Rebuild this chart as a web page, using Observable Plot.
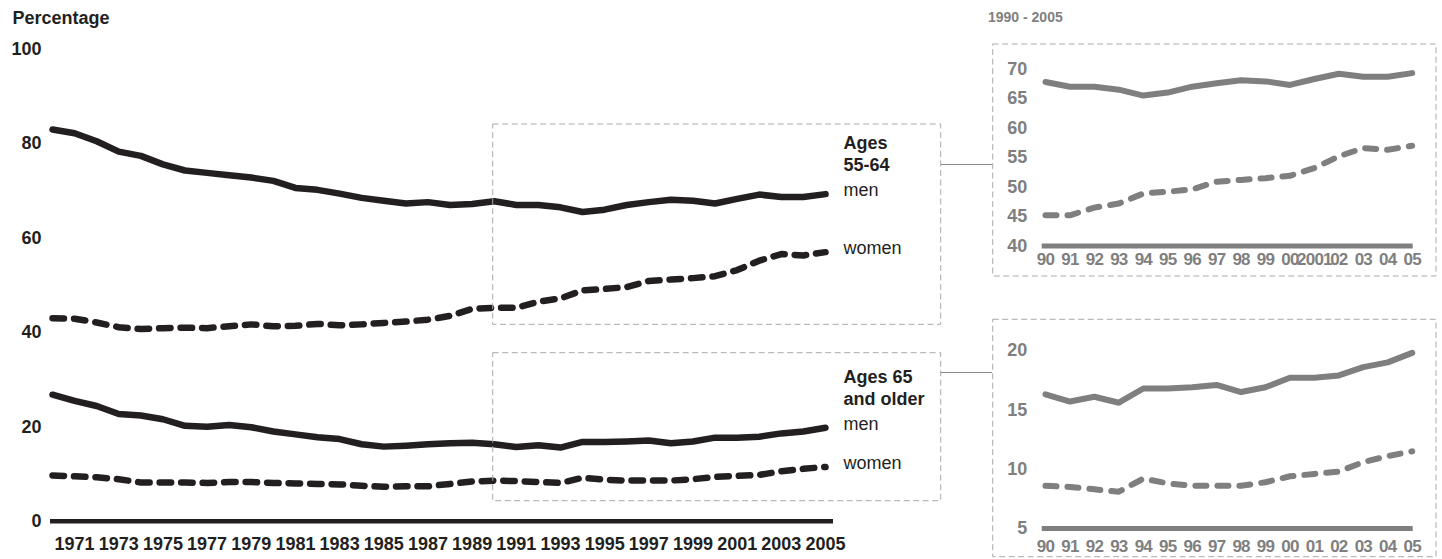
<!DOCTYPE html>
<html><head><meta charset="utf-8">
<script src="https://cdn.jsdelivr.net/npm/d3@7"></script>
<script src="https://cdn.jsdelivr.net/npm/@observablehq/plot@0.6"></script>
<style>
body{margin:0;background:#fff;}
#wrap{position:relative;width:1442px;height:559px;overflow:hidden;font-family:"Liberation Sans",Arial,Helvetica,sans-serif;}
#wrap > svg, #wrap > figure{position:absolute;margin:0;}
</style></head><body><div id="wrap"></div>
<script>
// ---------------- data ----------------
const years = [1970,1971,1972,1973,1974,1975,1976,1977,1978,1979,1980,1981,1982,1983,1984,1985,1986,1987,1988,1989,1990,1991,1992,1993,1994,1995,1996,1997,1998,1999,2000,2001,2002,2003,2004,2005];
const men5564   = [83.0,82.2,80.5,78.3,77.4,75.6,74.3,73.8,73.3,72.8,72.1,70.6,70.2,69.4,68.5,67.9,67.3,67.6,67.0,67.2,67.8,67.0,67.0,66.5,65.5,66.0,67.0,67.6,68.1,67.9,67.3,68.3,69.2,68.7,68.7,69.3];
const women5564 = [43.0,42.9,42.1,41.1,40.7,40.9,41.0,40.9,41.3,41.7,41.3,41.4,41.8,41.5,41.7,42.0,42.3,42.7,43.5,45.0,45.2,45.2,46.5,47.2,48.9,49.2,49.6,50.9,51.2,51.5,51.9,53.2,55.2,56.6,56.3,57.0];
const men65     = [26.8,25.5,24.4,22.7,22.4,21.6,20.2,20.0,20.4,19.9,19.0,18.4,17.8,17.4,16.3,15.8,16.0,16.3,16.5,16.6,16.3,15.7,16.1,15.6,16.8,16.8,16.9,17.1,16.5,16.9,17.7,17.7,17.9,18.6,19.0,19.8];
const women65   = [9.7,9.5,9.3,8.9,8.2,8.2,8.2,8.1,8.3,8.3,8.1,8.0,7.9,7.8,7.5,7.3,7.4,7.4,7.9,8.4,8.6,8.5,8.3,8.1,9.2,8.8,8.6,8.6,8.6,8.9,9.4,9.6,9.8,10.6,11.1,11.5];

const mainXTicks = [1971,1973,1975,1977,1979,1981,1983,1985,1987,1989,1991,1993,1995,1997,1999,2001,2003,2005];
const mainYTicks = [0,20,40,60,80,100];
const insetYears = [1990,1991,1992,1993,1994,1995,1996,1997,1998,1999,2000,2001,2002,2003,2004,2005];
const inset1XLabels = ["90","91","92","93","94","95","96","97","98","99","00","2001","02","03","04","05"];
const inset2XLabels = ["90","91","92","93","94","95","96","97","98","99","00","01","02","03","04","05"];
const inset1YTicks = [40,45,50,55,60,65,70];
const inset2YTicks = [5,10,15,20];
const groupTitles = ["Ages\n55-64", "Ages 65\nand older"];
const seriesNames = ["men","women"];
const yLabel = "Percentage";
const insetTitle = "1990 - 2005";

// ---------------- helpers ----------------
const FONT = '"Liberation Sans", Arial, Helvetica, sans-serif';
const BLACK = "#231f20", GRAY = "#7f7f7f", LIGHT = "#a9a9a9";
const rows = (vals, series, group, yrs = years) => yrs.map((y) => ({year: y, value: vals[years.indexOf(y)], series, group}));

const mMen1 = rows(men5564, "men", groupTitles[0]);
const mWom1 = rows(women5564, "women", groupTitles[0]);
const mMen2 = rows(men65, "men", groupTitles[1]);
const mWom2 = rows(women65, "women", groupTitles[1]);
const lastPts = [mMen1, mWom1, mMen2, mWom2].map(a => a[a.length - 1]);
const menLast = [mMen1, mMen2].map(a => a[a.length - 1]);

const wrap = document.getElementById("wrap");

// ---------------- main chart ----------------
const main = Plot.plot({
  width: 960, height: 559,
  marginLeft: 52, marginRight: 135, marginTop: 48.7, marginBottom: 38.3,
  style: {fontFamily: FONT, fontSize: "18px", fontWeight: "bold", color: BLACK, background: "transparent", overflow: "visible"},
  x: {domain: [1970, 2005], axis: null},
  y: {domain: [0, 100], axis: null},
  marks: [
    Plot.axisY(mainYTicks, {tickSize: 0, tickPadding: 11, label: null, fill: BLACK, fontWeight: "bold"}),
    Plot.axisX(mainXTicks, {tickSize: 0, tickPadding: 16, label: null, fill: BLACK, fontWeight: "bold", tickFormat: d => String(d)}),
    Plot.ruleY([0], {stroke: BLACK, strokeWidth: 4.5, insetLeft: -2, insetRight: -8}),
    Plot.line([...mMen1, ...mMen2], {x: "year", y: "value", z: "group", stroke: BLACK, strokeWidth: 6.5, strokeLinecap: "round", strokeLinejoin: "round"}),
    Plot.line([...mWom1, ...mWom2], {x: "year", y: "value", z: "group", stroke: BLACK, strokeWidth: 6.5, strokeLinecap: "round", strokeLinejoin: "round", strokeDasharray: "11.5,10"}),
    Plot.text(lastPts, {x: "year", y: "value", text: "series", dx: 18, dy: -4, textAnchor: "start", fontWeight: "normal", fill: BLACK}),
    Plot.text(menLast, {x: "year", y: "value", text: "group", dx: 18, dy: -23, textAnchor: "start", lineAnchor: "bottom", lineHeight: 1.22, fontWeight: "bold", fill: BLACK})
  ]
});
main.style.left = "0px"; main.style.top = "0px";
wrap.appendChild(main);

// ---------------- insets ----------------
function inset(menVals, womVals, yDomain, yTicks, xLabels, opts) {
  const m = rows(menVals, "men", "", insetYears);
  const w = rows(womVals, "women", "", insetYears);
  const svg = Plot.plot({
    width: 443, height: opts.height,
    marginLeft: 52, marginRight: 24.3, marginTop: opts.mt, marginBottom: opts.mb,
    style: {fontFamily: FONT, fontSize: "18px", fontWeight: "bold", color: GRAY, background: "transparent", overflow: "visible"},
    x: {domain: [1990, 2005], axis: null},
    y: {domain: yDomain, axis: null},
    marks: [
      Plot.axisY(yTicks, {tickSize: 0, tickPadding: 18.3, label: null, fill: GRAY, fontWeight: "bold"}),
      Plot.axisX(insetYears, {tickSize: 0, tickPadding: opts.xpad, label: null, fill: GRAY, fontWeight: "bold", fontSize: 17, tickFormat: d => xLabels[insetYears.indexOf(d)]}),
      Plot.ruleY([yDomain[0]], {stroke: GRAY, strokeWidth: 5, insetLeft: -3.3, insetRight: -1}),
      Plot.line(m, {x: "year", y: "value", stroke: GRAY, strokeWidth: 6, strokeLinecap: "round", strokeLinejoin: "round"}),
      Plot.line(w, {x: "year", y: "value", stroke: GRAY, strokeWidth: 6, strokeLinecap: "round", strokeLinejoin: "round", strokeDasharray: "11,11"})
    ]
  });
  svg.querySelectorAll('[aria-label="x-axis tick label"] text').forEach(t => t.style.letterSpacing = "-0.8px");
  svg.style.left = opts.left + "px"; svg.style.top = opts.top + "px";
  wrap.appendChild(svg);
}
inset(men5564, women5564, [40, 70], inset1YTicks, inset1XLabels, {left: 993, top: 44, height: 232, mt: 24.5, mb: 30.5, xpad: 7});
inset(men65, women65, [5, 20], inset2YTicks, inset2XLabels, {left: 993, top: 319, height: 238, mt: 31, mb: 29, xpad: 11});

// ---------------- decorations (frames, connectors, titles) ----------------
const ov = d3.create("svg").attr("width", 1442).attr("height", 559)
  .style("left", "0px").style("top", "0px").style("pointer-events", "none");
const frames = [
  [492.7, 124, 448, 200.3],
  [492.7, 352.7, 448, 148],
  [992.7, 44, 443.3, 232],
  [992.7, 319.3, 443.3, 237.4]
];
ov.selectAll("rect").data(frames).join("rect")
  .attr("x", d => d[0]).attr("y", d => d[1]).attr("width", d => d[2]).attr("height", d => d[3])
  .attr("fill", "none").attr("stroke", LIGHT).attr("stroke-width", 1).attr("stroke-dasharray", "6,3.5");
ov.selectAll("line").data([164.5, 372.5]).join("line")
  .attr("x1", 941).attr("x2", 992).attr("y1", d => d).attr("y2", d => d)
  .attr("stroke", "#8a8a8a").attr("stroke-width", 1);
ov.append("text").attr("x", 12.5).attr("y", 24).attr("font-family", FONT).attr("font-size", 18)
  .attr("font-weight", "bold").attr("fill", BLACK).text(yLabel);
ov.append("text").attr("x", 988).attr("y", 22).attr("font-family", FONT).attr("font-size", 14)
  .attr("font-weight", "bold").attr("fill", GRAY).text(insetTitle);
wrap.appendChild(ov.node());
</script></body></html>
